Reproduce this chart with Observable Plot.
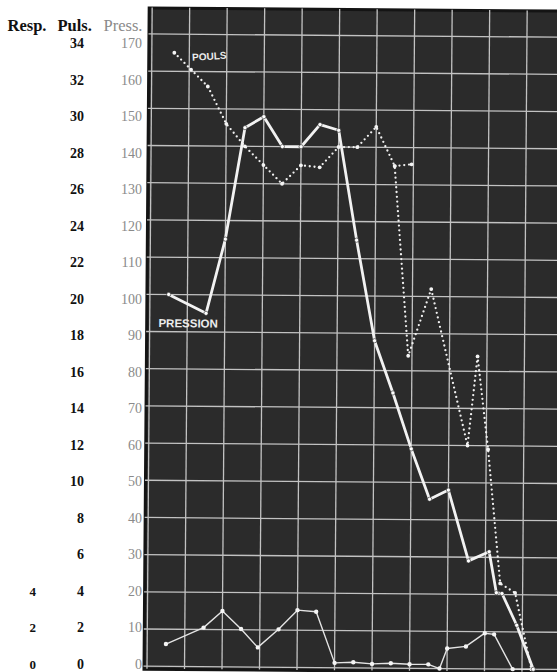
<!DOCTYPE html>
<html>
<head>
<meta charset="utf-8">
<script src="https://cdn.jsdelivr.net/npm/d3@7"></script>
<script src="https://cdn.jsdelivr.net/npm/@observablehq/plot@0.6"></script>
<style>
  html, body { margin: 0; padding: 0; background: #fff; }
  #wrap { position: relative; width: 557px; height: 672px; overflow: hidden; background: #fff; }
  #wrap svg { position: absolute; left: 0; top: 0; max-width: none !important; }
  #wrap svg.chart { transform: rotate(0.45deg); transform-origin: 350px 350px; }
</style>
</head>
<body>
<div id="wrap"></div>
<script>
// Scale ticks (common 0–170 scale) and the labels printed in each column
const ticksPress = [0, 10, 20, 30, 40, 50, 60, 70, 80, 90, 100, 110, 120, 130, 140, 150, 160, 170];
const ticksPuls = [0, 2, 4, 6, 8, 10, 12, 14, 16, 18, 20, 22, 24, 26, 28, 30, 32, 34];
const ticksResp = [0, 2, 4];
const headers = ["Resp.", "Puls.", "Press."];

// Grid columns (time steps)
const gridCols = [0, 1, 2, 3, 4, 5, 6, 7, 8, 9, 10, 11];

// Pouls (dotted)
const poulsT = [0.6, 1.05, 1.5, 2, 2.5, 3, 3.5, 4, 4.5, 5, 5.5, 6, 6.5, 6.9, 7.5, 8.5, 8.75, 9.05, 9.4, 9.8, 10.25];
const poulsV = [165, 160.5, 156, 146, 140, 135, 130, 135, 134.5, 140, 140, 145.5, 135, 84, 102, 60, 84, 59, 23, 20.5, 0];
// short side segment of the pulse curve
const poulsSideT = [6.5, 6.95];
const poulsSideV = [135, 135.5];

// Pression (thick solid)
const pressionT = [0.5, 1.5, 2, 2.5, 3, 3.5, 4, 4.5, 5, 5.5, 6, 6.5, 7, 7.5, 8, 8.55, 9.1, 9.3, 9.45, 9.85, 10.3];
const pressionV = [100, 95, 115, 145, 148, 140, 140, 146, 144.5, 115, 88, 74, 59, 45.5, 48, 29, 31.5, 20.5, 20.3, 11.8, 0];

// Respiration (thin solid, bottom)
const respT = [0.5, 1.5, 2, 2.5, 2.95, 3.5, 4, 4.5, 5, 5.5, 6, 6.5, 7, 7.5, 7.8, 8, 8.5, 9, 9.25, 9.75, 10.3];
const respV = [6, 10.5, 15, 10.2, 5.3, 10.2, 15.4, 15, 1.3, 1.5, 1.1, 1.3, 1.1, 1.1, 0, 5.4, 6, 9.6, 9.3, 0, 0];

const toRows = (ts, vs) => ts.map((t, i) => ({t, v: vs[i]}));
const pouls = toRows(poulsT, poulsV);
const poulsSide = toRows(poulsSideT, poulsSideV);
const pression = toRows(pressionT, pressionV);
const resp = toRows(respT, respV);

const W = 580;
const colW = 37.5;
const x0 = 149;

const chart = Plot.plot({
  width: W,
  height: 672,
  marginLeft: 146,
  marginRight: W - (x0 + 11.1 * colW),
  marginTop: 9,
  marginBottom: 1.7,
  x: {domain: [-0.08, 11.1], axis: null},
  y: {domain: [-0.8, 177], axis: null},
  className: "chart",
  style: {background: "transparent", overflow: "visible", maxWidth: "none"},
  marks: [
    Plot.frame({fill: "#2b2b2b", stroke: "#141414", strokeWidth: 3}),
    Plot.gridX(gridCols, {stroke: "#c2c2c2", strokeOpacity: 1, strokeWidth: 1.3}),
    Plot.gridY(ticksPress, {stroke: "#c2c2c2", strokeOpacity: 1, strokeWidth: 1.3}),

    // respiration
    Plot.line(resp, {x: "t", y: "v", stroke: "#e4e4e4", strokeWidth: 1.4}),
    Plot.dot(resp, {x: "t", y: "v", r: 2.2, fill: "#f4f4f4"}),

    // pouls
    Plot.line(pouls, {x: "t", y: "v", stroke: "#f0f0f0", strokeWidth: 2.3, strokeDasharray: "0 4.8", strokeLinecap: "round"}),
    Plot.line(poulsSide, {x: "t", y: "v", stroke: "#f0f0f0", strokeWidth: 2.3, strokeDasharray: "0 4.8", strokeLinecap: "round"}),
    Plot.dot(pouls.concat(poulsSide), {x: "t", y: "v", r: 1.9, fill: "#f4f4f4"}),

    // pression
    Plot.line(pression, {x: "t", y: "v", stroke: "#f2f2f2", strokeWidth: 2.8}),
    Plot.dot(pression, {x: "t", y: "v", r: 2.1, fill: "#ffffff", stroke: "#2b2b2b", strokeWidth: 0.6}),

    // curve names
    Plot.text([pouls[1]], {x: "t", y: "v", text: () => "POULS", textAnchor: "start", dx: 1, dy: -12,
      fill: "#ececec", fontSize: 10, fontWeight: "bold", fontFamily: "Liberation Sans, Arial, sans-serif", rotate: -4}),
    Plot.text([pression[0]], {x: "t", y: "v", text: () => "PRESSION", textAnchor: "start", dx: -10, dy: 29,
      fill: "#ececec", fontSize: 11.5, fontWeight: "bold", fontFamily: "Liberation Sans, Arial, sans-serif", letterSpacing: "0.4px"})
  ]
});

// Scale columns at the left
const serif = "Liberation Serif, DejaVu Serif, serif";
const labels = Plot.plot({
  width: 150,
  height: 672,
  marginLeft: 144,
  marginRight: 0,
  marginTop: 43,
  marginBottom: 8,
  y: {domain: [0, 170], axis: null},
  style: {background: "transparent", overflow: "visible", maxWidth: "none"},
  marks: [
    Plot.axisY(ticksPress, {anchor: "left", tickSize: 0, tickPadding: 2.5, label: null,
      fill: "#8a8a8a", fontSize: 14, fontFamily: serif}),
    Plot.axisY(ticksPress, {anchor: "left", tickSize: 0, tickPadding: 60.5, label: null,
      tickFormat: d => ticksPuls[ticksPress.indexOf(d)],
      fill: "#111", fontSize: 14, fontWeight: "bold", fontFamily: serif}),
    Plot.axisY(ticksPress.slice(0, ticksResp.length), {anchor: "left", tickSize: 0, tickPadding: 108.5, label: null,
      tickFormat: d => ticksResp[ticksPress.indexOf(d)],
      fill: "#111", fontSize: 13, fontWeight: "bold", fontFamily: serif}),
    Plot.text([headers[0]], {frameAnchor: "top-left", text: d => d, dx: -137, dy: -13, lineAnchor: "bottom",
      textAnchor: "start", fill: "#111", fontSize: 16.5, fontWeight: "bold", fontFamily: serif}),
    Plot.text([headers[1]], {frameAnchor: "top-left", text: d => d, dx: -87, dy: -13, lineAnchor: "bottom",
      textAnchor: "start", fill: "#111", fontSize: 16.5, fontWeight: "bold", fontFamily: serif}),
    Plot.text([headers[2]], {frameAnchor: "top-left", text: d => d, dx: -41, dy: -13, lineAnchor: "bottom",
      textAnchor: "start", fill: "#8a8a8a", fontSize: 16.5, fontFamily: serif})
  ]
});

const wrap = document.getElementById("wrap");
wrap.appendChild(chart);
wrap.appendChild(labels);
</script>
</body>
</html>
